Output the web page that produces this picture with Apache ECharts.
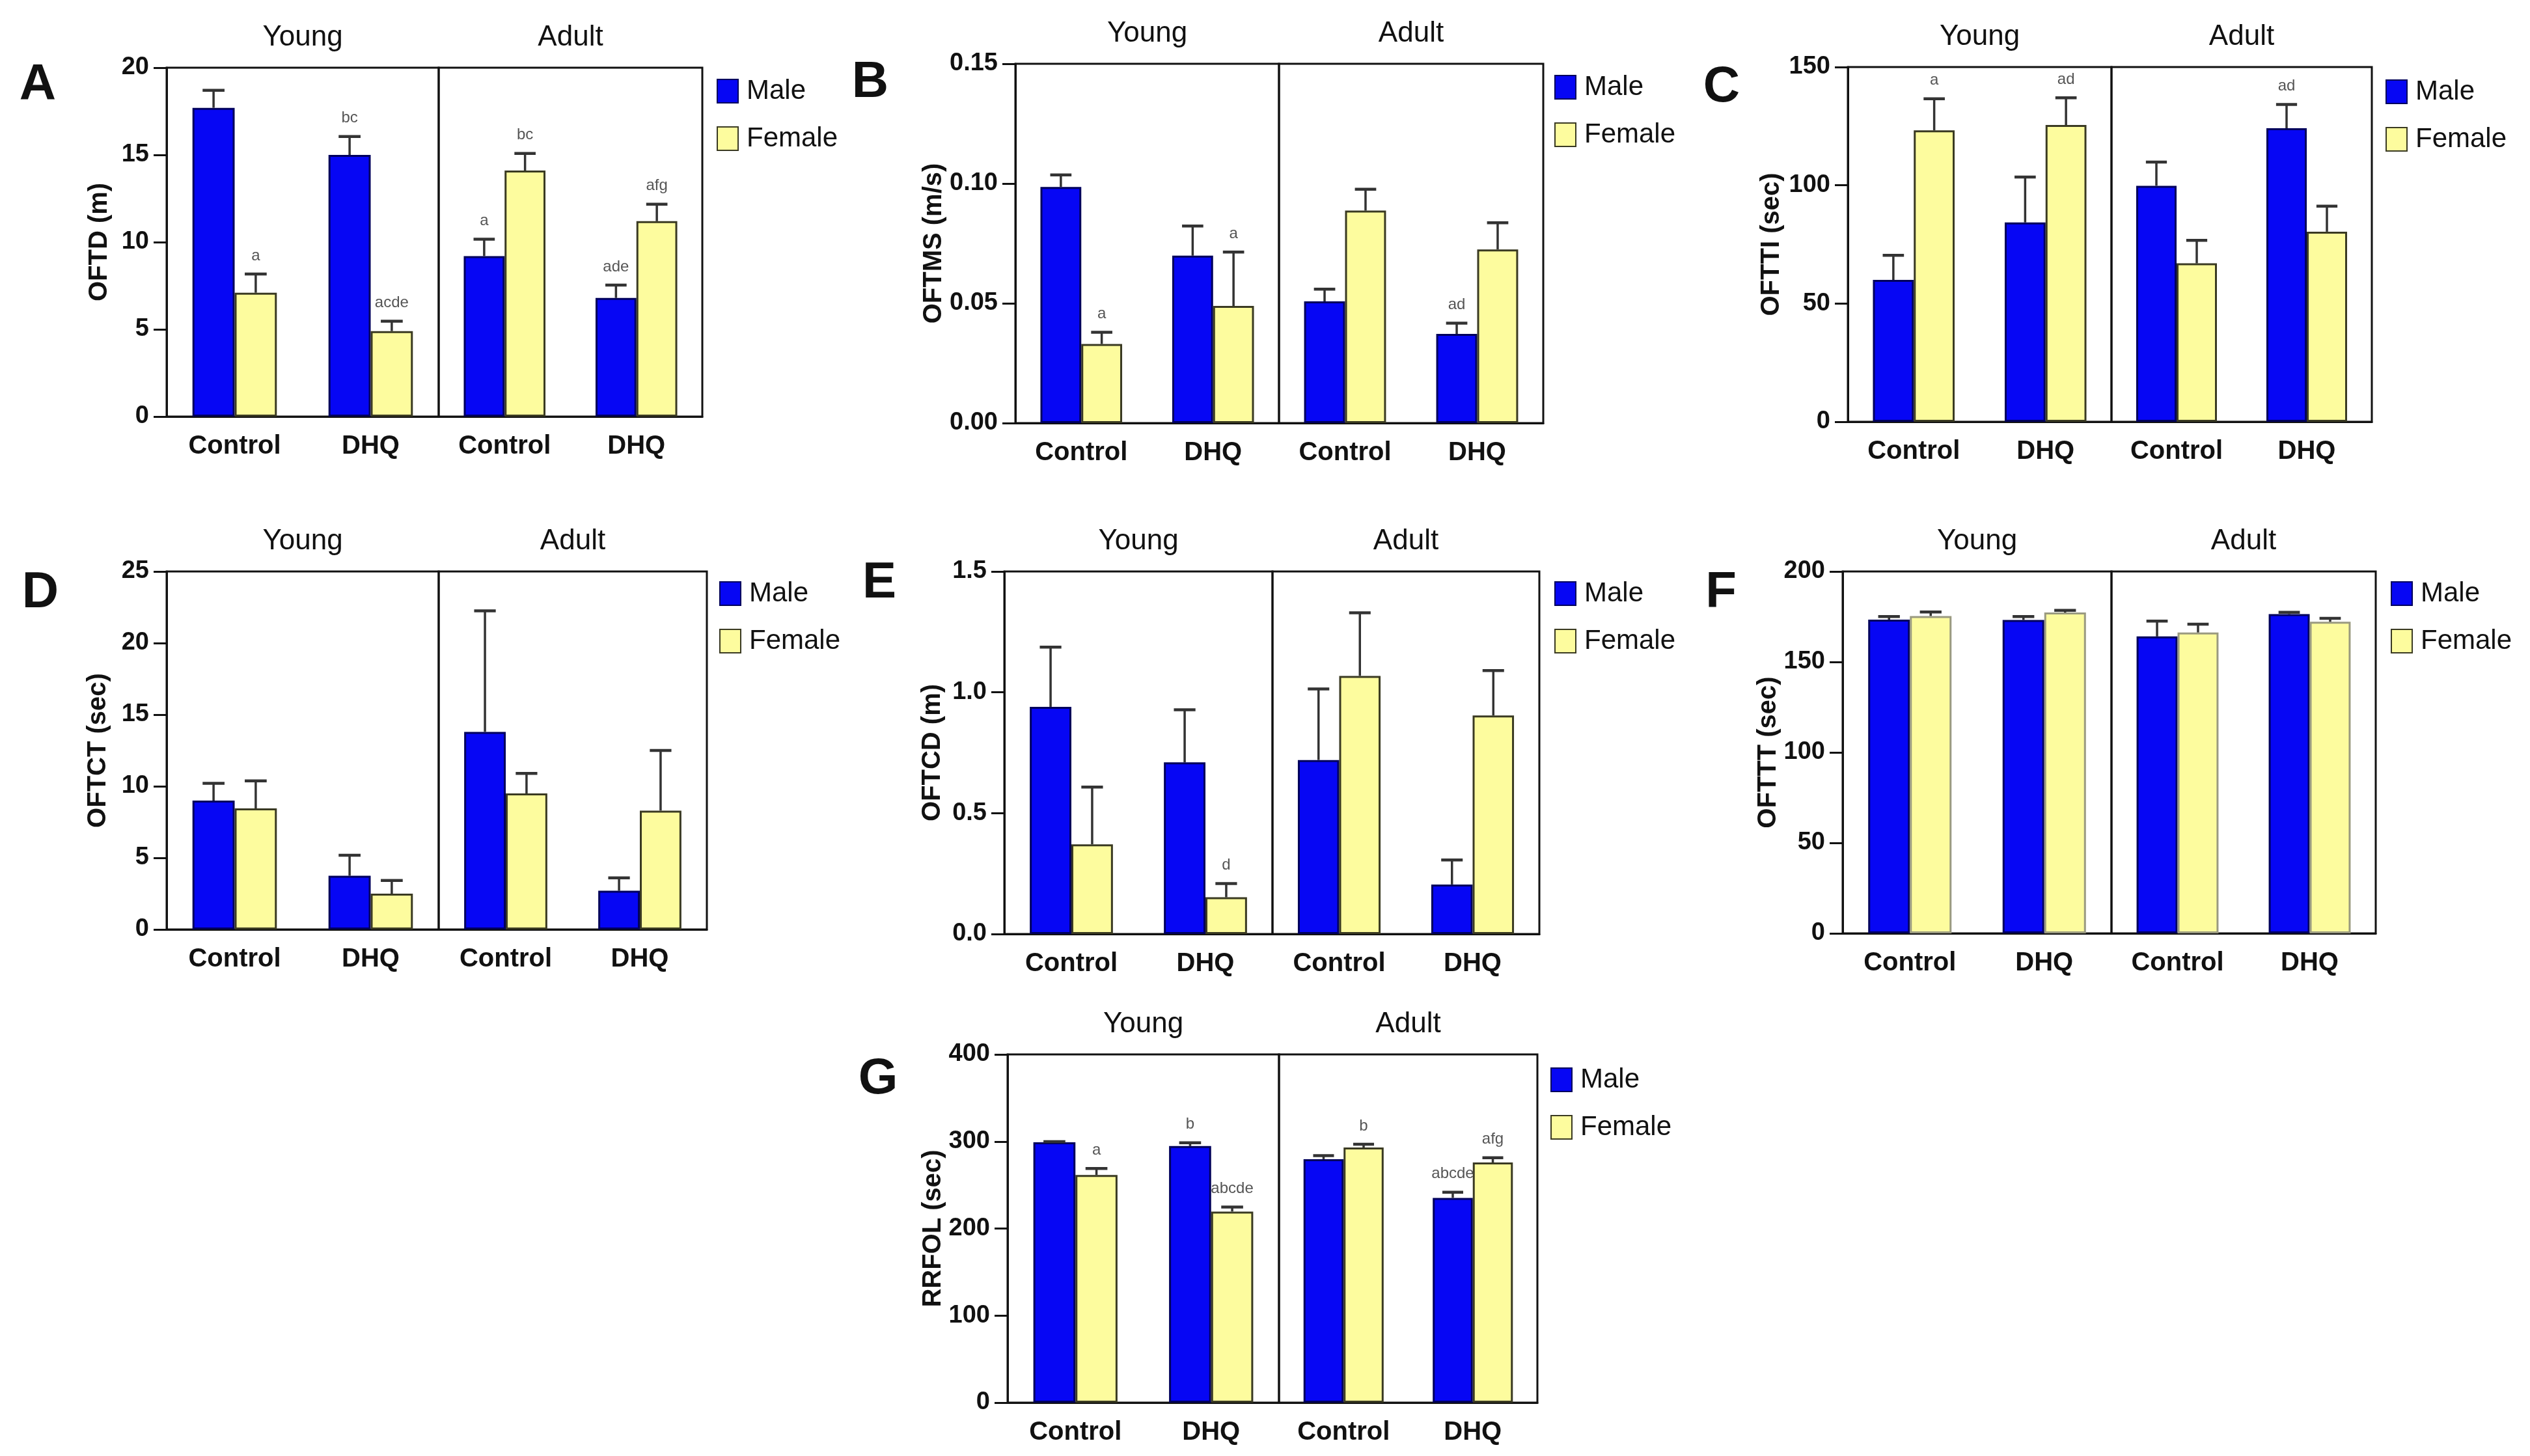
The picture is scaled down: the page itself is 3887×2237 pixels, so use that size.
<!DOCTYPE html>
<html>
<head>
<meta charset="utf-8">
<script src="https://cdn.jsdelivr.net/npm/echarts@6/dist/echarts.min.js"></script>
<style>
  html, body { margin: 0; padding: 0; background: #fff; }
  #chart { width: 3887px; height: 2237px; }
</style>
</head>
<body>
<div id="chart"></div>
<script>
// order of every value list: Young Control, Young DHQ, Adult Control, Adult DHQ
var categories = ['Control', 'DHQ'];
var groups = ['Young', 'Adult'];

// A - OFTD (m)
var oftdMale = [17.7, 15.0, 9.2, 6.8];
var oftdMaleErr = [1.0, 1.05, 0.97, 0.74];
var oftdFemale = [7.1, 4.9, 14.1, 11.2];
var oftdFemaleErr = [1.07, 0.57, 0.98, 0.97];
var oftdMaleSig = ['', 'bc', 'a', 'ade'];
var oftdFemaleSig = ['a', 'acde', 'bc', 'afg'];

// B - OFTMS (m/s)
var oftmsMale = [0.0986, 0.0699, 0.0508, 0.0372];
var oftmsMaleErr = [0.005, 0.0124, 0.0051, 0.0045];
var oftmsFemale = [0.0330, 0.0489, 0.0887, 0.0725];
var oftmsFemaleErr = [0.0049, 0.0225, 0.0089, 0.0111];
var oftmsMaleSig = ['', '', '', 'ad'];
var oftmsFemaleSig = ['a', 'a', '', ''];

// C - OFTTI (sec)
var oftiMale = [60.0, 84.3, 99.8, 124.1];
var oftiMaleErr = [10.4, 19.2, 10.0, 10.1];
var oftiFemale = [123.2, 125.5, 67.0, 80.4];
var oftiFemaleErr = [13.4, 11.5, 9.7, 10.8];
var oftiMaleSig = ['', '', '', 'ad'];
var oftiFemaleSig = ['a', 'ad', '', ''];

// D - OFTCT (sec)
var oftctMale = [9.0, 3.75, 13.8, 2.7];
var oftctMaleErr = [1.2, 1.43, 8.45, 0.9];
var oftctFemale = [8.45, 2.5, 9.5, 8.3];
var oftctFemaleErr = [1.93, 0.92, 1.4, 4.2];
var noSig = ['', '', '', ''];

// E - OFTCD (m)
var oftcdMale = [0.94, 0.71, 0.72, 0.205];
var oftcdMaleErr = [0.247, 0.218, 0.294, 0.101];
var oftcdFemale = [0.371, 0.152, 1.068, 0.904];
var oftcdFemaleErr = [0.237, 0.057, 0.261, 0.186];
var oftcdFemaleSig = ['', 'd', '', ''];

// F - OFTTT (sec)
var oftttMale = [173.4, 173.2, 164.1, 176.4];
var oftttMaleErr = [1.7, 1.9, 8.5, 1.0];
var oftttFemale = [175.4, 177.3, 166.3, 172.2];
var oftttFemaleErr = [2.2, 1.2, 4.6, 1.9];

// G - RRFOL (sec)
var rrfolMale = [299.1, 294.7, 279.7, 235.2];
var rrfolMaleErr = [0.7, 3.8, 4.1, 6.5];
var rrfolFemale = [261.5, 219.5, 293.0, 275.9];
var rrfolFemaleErr = [7.5, 5.1, 3.8, 5.5];
var rrfolMaleSig = ['', 'b', '', 'abcde'];
var rrfolFemaleSig = ['a', 'abcde', 'b', 'afg'];

var panels = [
  { letter: 'A', yName: 'OFTD (m)', max: 20, interval: 5, dec: 0,
    m: oftdMale, me: oftdMaleErr, f: oftdFemale, fe: oftdFemaleErr, ms: oftdMaleSig, fs: oftdFemaleSig },
  { letter: 'B', yName: 'OFTMS (m/s)', max: 0.15, interval: 0.05, dec: 2,
    m: oftmsMale, me: oftmsMaleErr, f: oftmsFemale, fe: oftmsFemaleErr, ms: oftmsMaleSig, fs: oftmsFemaleSig },
  { letter: 'C', yName: 'OFTTI (sec)', max: 150, interval: 50, dec: 0,
    m: oftiMale, me: oftiMaleErr, f: oftiFemale, fe: oftiFemaleErr, ms: oftiMaleSig, fs: oftiFemaleSig },
  { letter: 'D', yName: 'OFTCT (sec)', max: 25, interval: 5, dec: 0,
    m: oftctMale, me: oftctMaleErr, f: oftctFemale, fe: oftctFemaleErr, ms: noSig, fs: noSig },
  { letter: 'E', yName: 'OFTCD (m)', max: 1.5, interval: 0.5, dec: 1,
    m: oftcdMale, me: oftcdMaleErr, f: oftcdFemale, fe: oftcdFemaleErr, ms: noSig, fs: oftcdFemaleSig },
  { letter: 'F', yName: 'OFTTT (sec)', max: 200, interval: 50, dec: 0,
    m: oftttMale, me: oftttMaleErr, f: oftttFemale, fe: oftttFemaleErr, ms: noSig, fs: noSig },
  { letter: 'G', yName: 'RRFOL (sec)', max: 400, interval: 100, dec: 0,
    m: rrfolMale, me: rrfolMaleErr, f: rrfolFemale, fe: rrfolFemaleErr, ms: rrfolMaleSig, fs: rrfolFemaleSig }
];

// page geometry of each panel (pixels)
var layout = [
  { L: 256,  R: 1079, D: 674,  T: 104,  B: 640,  lg: [1096, 114],  lt: [58, 131],    gap: 83 },
  { L: 1560, R: 2371, D: 1965, T: 98,   B: 650,  lg: [2383, 108],  lt: [1337, 127],  gap: 104 },
  { L: 2839, R: 3644, D: 3244, T: 103,  B: 648,  lg: [3660, 115],  lt: [2645, 134],  gap: 97 },
  { L: 256,  R: 1086, D: 674,  T: 878,  B: 1428, lg: [1100, 886],  lt: [62, 911],    gap: 85 },
  { L: 1543, R: 2365, D: 1955, T: 878,  B: 1435, lg: [2383, 886],  lt: [1351, 896],  gap: 90 },
  { L: 2831, R: 3650, D: 3244, T: 878,  B: 1434, lg: [3668, 886],  lt: [2644, 911],  gap: 90 },
  { L: 1548, R: 2362, D: 1965, T: 1620, B: 2155, lg: [2377, 1633], lt: [1349, 1658], gap: 91 }
];

var FONT = '"Liberation Sans", Arial, Helvetica, sans-serif';
var INK = '#111';
var BLUE = '#0606f4';
var BLUE_EDGE = '#00005c';
var YELLOW = '#fdfc9e';
var YELLOW_EDGE = '#3a3a22';
var CAT_GAP = 0.38;

function errorRenderer(side, sigs) {
  return function (params, api) {
    var ci = api.value(0);
    var base = api.coord([ci, api.value(1)]);
    var top = api.coord([ci, api.value(1) + api.value(2)]);
    var band = api.size([1, 0])[0];
    var bw = band * (1 - CAT_GAP) / 2;
    var cx = base[0] + side * bw / 2;
    var cap = bw * 0.26;
    var kids = [
      { type: 'line', shape: { x1: cx, y1: base[1], x2: cx, y2: top[1] },
        style: { stroke: '#333', lineWidth: 3.5 } },
      { type: 'line', shape: { x1: cx - cap, y1: top[1], x2: cx + cap, y2: top[1] },
        style: { stroke: '#333', lineWidth: 4.5 } }
    ];
    var s = sigs[params.dataIndex];
    if (s) {
      kids.push({ type: 'text', style: {
        text: s, x: cx, y: top[1] - 16, align: 'center', verticalAlign: 'bottom',
        fill: '#555', fontSize: 24, fontFamily: FONT } });
    }
    return { type: 'group', children: kids };
  };
}

var grids = [], xAxes = [], yAxes = [], series = [], legends = [], graphics = [];

panels.forEach(function (p, pi) {
  var g = layout[pi];
  graphics.push({ type: 'text', x: g.lt[0], y: g.lt[1],
    style: { text: p.letter, align: 'center', verticalAlign: 'middle',
      fontSize: 78, fontWeight: 'bold', fontFamily: FONT, fill: INK } });
  legends.push({
    orient: 'vertical', left: g.lg[0], top: g.lg[1], icon: 'rect',
    itemWidth: 32, itemHeight: 36, itemGap: 31, data: ['Male', 'Female'],
    textStyle: { fontSize: 42, color: INK, fontFamily: FONT, padding: [0, 0, 0, 8] }
  });
  groups.forEach(function (grp, h) {
    var gi = pi * 2 + h;
    var left = h === 0 ? g.L : g.D;
    var right = h === 0 ? g.D : g.R;
    graphics.push({ type: 'text', x: (left + right) / 2, y: g.T - 46,
      style: { text: grp, align: 'center', verticalAlign: 'middle',
        fontSize: 44, fontFamily: FONT, fill: INK } });
    grids.push({ left: left, top: g.T, width: right - left, height: g.B - g.T,
      show: true, borderColor: INK, borderWidth: 3, backgroundColor: 'transparent' });
    xAxes.push({
      type: 'category', gridIndex: gi, data: categories,
      axisLine: { lineStyle: { color: INK, width: 3 } },
      axisTick: { alignWithLabel: true, length: 19, lineStyle: { color: INK, width: 3 } },
      axisLabel: { fontSize: 40, fontWeight: 'bold', color: INK, fontFamily: FONT, margin: 26 }
    });
    var y = {
      type: 'value', gridIndex: gi, min: 0, max: p.max, interval: p.interval,
      splitLine: { show: false }
    };
    if (h === 0) {
      y.name = p.yName;
      y.nameLocation = 'middle';
      y.nameGap = g.gap;
      y.nameTextStyle = { fontSize: 40, fontWeight: 'bold', color: INK, fontFamily: FONT };
      y.axisLine = { show: true, lineStyle: { color: INK, width: 3 } };
      y.axisTick = { show: true, length: 20, lineStyle: { color: INK, width: 3 } };
      y.axisLabel = { fontSize: 38, fontWeight: 'bold', color: INK, fontFamily: FONT, margin: 27,
        formatter: (function (d) { return function (v) { return v.toFixed(d); }; })(p.dec) };
    } else {
      y.axisLine = { show: false };
      y.axisTick = { show: false };
      y.axisLabel = { show: false };
    }
    yAxes.push(y);

    var idx = [h * 2, h * 2 + 1];
    series.push({
      name: 'Male', type: 'bar', xAxisIndex: gi, yAxisIndex: gi,
      barGap: 0, barCategoryGap: (CAT_GAP * 100) + '%',
      itemStyle: { color: BLUE, borderColor: BLUE_EDGE, borderWidth: 3 },
      data: idx.map(function (k) { return p.m[k]; })
    });
    series.push({
      name: 'Female', type: 'bar', xAxisIndex: gi, yAxisIndex: gi,
      barGap: 0, barCategoryGap: (CAT_GAP * 100) + '%',
      itemStyle: { color: YELLOW, borderColor: pi === 5 ? '#9a9a80' : YELLOW_EDGE, borderWidth: 3 },
      data: idx.map(function (k) { return p.f[k]; })
    });
    series.push({
      name: 'Male SEM', type: 'custom', xAxisIndex: gi, yAxisIndex: gi, z: 5, clip: false,
      renderItem: errorRenderer(-1, idx.map(function (k) { return p.ms[k]; })),
      encode: { x: 0, y: 1 },
      data: idx.map(function (k, j) { return [j, p.m[k], p.me[k]]; })
    });
    series.push({
      name: 'Female SEM', type: 'custom', xAxisIndex: gi, yAxisIndex: gi, z: 5, clip: false,
      renderItem: errorRenderer(1, idx.map(function (k) { return p.fs[k]; })),
      encode: { x: 0, y: 1 },
      data: idx.map(function (k, j) { return [j, p.f[k], p.fe[k]]; })
    });
  });
});

var chart = echarts.init(document.getElementById('chart'));
chart.setOption({
  backgroundColor: '#fff',
  animation: false,
  textStyle: { fontFamily: FONT },
  grid: grids,
  xAxis: xAxes,
  yAxis: yAxes,
  legend: legends,
  graphic: graphics,
  series: series
});
</script>
</body>
</html>
